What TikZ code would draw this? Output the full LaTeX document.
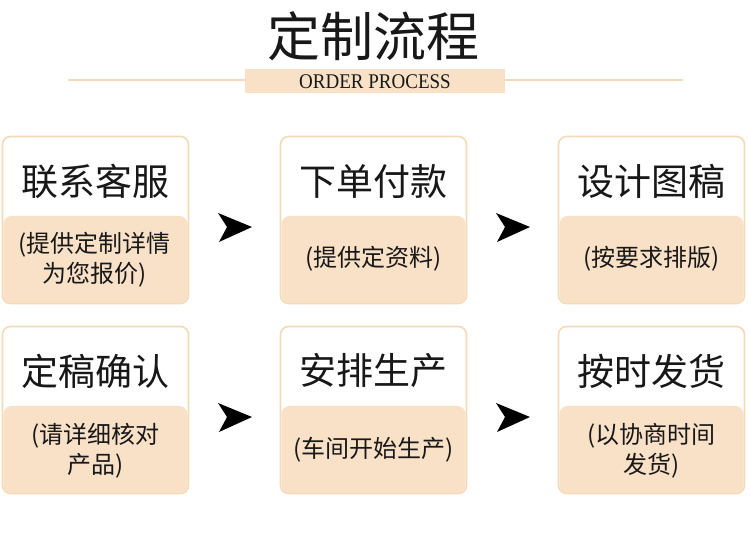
\documentclass[tikz,border=0pt]{standalone}
\usepackage{fontspec}
\setmainfont{Liberation Serif}
\newfontfamily\cjk{Noto Sans CJK SC}
\definecolor{peach}{RGB}{248,225,199}
\definecolor{peachline}{RGB}{245,218,184}
\definecolor{txt}{RGB}{24,24,24}
\tikzset{
  card/.style={draw=peachline, line width=1.6pt, fill=white, rounded corners=8pt, minimum width=186pt, minimum height=167pt, inner sep=0pt},
  lower/.style={fill=peach, rounded corners=8pt, minimum width=184pt, minimum height=87pt, inner sep=0pt},
  head/.style={font=\cjk\fontsize{37}{40}\selectfont, text=txt},
  sub/.style={font=\cjk\fontsize{24}{30}\selectfont, text=txt, align=center},
  pointer/.style={fill=black}
}
\newcommand{\pointerat}[2]{\fill[pointer] (#1-16,#2-14) -- (#1+18,#2) -- (#1-15,#2+15) -- (#1-7,#2) -- cycle;}
\begin{document}
\begin{tikzpicture}[x=1pt,y=-1pt]
\useasboundingbox (0,0) rectangle (750,534);
\fill[white] (0,0) rectangle (750,534);
% header
\draw[peachline, line width=2pt] (68,80) coordinate (la) -- (683,80) coordinate (lb);
\node[fill=peach, minimum width=260pt, minimum height=24pt, inner sep=0pt] (banner) at (375,81) {};
\node[font=\fontsize{19}{20}\selectfont, text=txt, yscale=1.1] (sub) at (375,82) {ORDER PROCESS};
\node[font=\cjk\fontsize{53}{56}\selectfont, text=txt] (title) at (373,36) {定制流程};
% cards
\foreach \nm/\x/\y in {c1/95.5/220, c2/373.5/220, c3/651.5/220, c4/95.5/410, c5/373.5/410, c6/651.5/410}{
  \node[card] (\nm) at (\x,\y) {};
  \node[lower] (\nm l) at (\x,\y+39.5) {};
}
% headings
\node[head] (h1) at (95.5,181) {联系客服};
\node[head] (h2) at (373.5,181) {下单付款};
\node[head] (h3) at (651.5,181) {设计图稿};
\node[head] (h4) at (95.5,371) {定稿确认};
\node[head] (h5) at (373.5,371) {安排生产};
\node[head] (h6) at (651.5,371) {按时发货};
% sub texts
\node[sub] (s1) at (94.5,260) {(提供定制详情\\为您报价)};
\node[sub] (s2) at (373.5,259) {(提供定资料)};
\node[sub] (s3) at (651.5,259) {(按要求排版)};
\node[sub] (s4) at (95.5,451) {(请详细核对\\产品)};
\node[sub] (s5) at (373.5,450) {(车间开始生产)};
\node[sub] (s6) at (651.5,451) {(以协商时间\\发货)};
% pointers
\pointerat{234}{227}
\pointerat{512}{227}
\pointerat{234}{417}
\pointerat{512}{417}
\end{tikzpicture}
\end{document}
